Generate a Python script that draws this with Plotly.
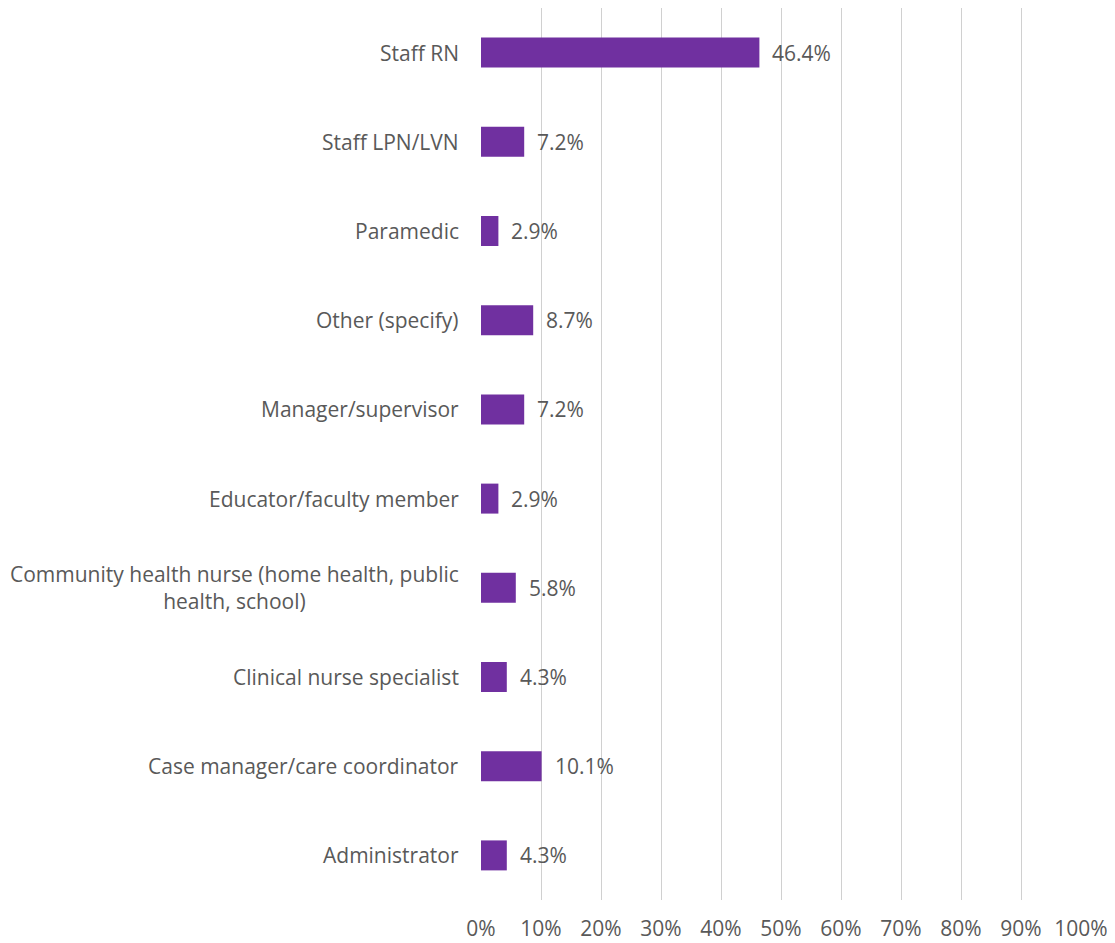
import plotly.graph_objects as go

categories = [
    "Staff RN",
    "Staff LPN/LVN",
    "Paramedic",
    "Other (specify)",
    "Manager/supervisor",
    "Educator/faculty member",
    "Community health nurse (home health, public<br>health, school)",
    "Clinical nurse specialist",
    "Case manager/care coordinator",
    "Administrator",
]
values = [46.4, 7.2, 2.9, 8.7, 7.2, 2.9, 5.8, 4.3, 10.1, 4.3]
x_ticks = [0, 10, 20, 30, 40, 50, 60, 70, 80, 90, 100]
x_tick_labels = [f"{t}%" for t in x_ticks]

FONT = "Open Sans"
GRAY = "#595959"
PURPLE = "#7030A0"
FS = 21

fig = go.Figure(
    go.Bar(
        y=categories,
        x=values,
        orientation="h",
        marker=dict(color=PURPLE, line=dict(width=0)),
        hoverinfo="skip",
    )
)

annotations = []
for c, v in zip(categories, values):
    annotations.append(dict(
        x=v, y=c, xref="x", yref="y", text=f"{v:.1f}%", showarrow=False,
        xanchor="left", xshift=11, font=dict(family=FONT, size=FS, color=GRAY),
    ))
    annotations.append(dict(
        x=0, y=c, xref="x", yref="y", text=c, showarrow=False,
        xanchor="right", xshift=-20, align="center",
        font=dict(family=FONT, size=FS, color=GRAY),
    ))

fig.update_layout(
    width=1115,
    height=943,
    margin=dict(l=473, r=42, t=0, b=51),
    plot_bgcolor="white",
    paper_bgcolor="white",
    bargap=0.664,
    showlegend=False,
    annotations=annotations,
    xaxis=dict(
        range=[0, 100],
        tickvals=x_ticks,
        ticktext=x_tick_labels,
        showgrid=True,
        gridcolor="#d0d0d0",
        gridwidth=1,
        zeroline=False,
        showline=False,
        ticks="",
        ticklabelstandoff=14,
        tickfont=dict(family=FONT, size=FS, color=GRAY),
        fixedrange=True,
    ),
    yaxis=dict(
        categoryorder="array",
        categoryarray=categories[::-1],
        showticklabels=False,
        showgrid=False,
        zeroline=False,
        showline=False,
        ticks="",
        fixedrange=True,
    ),
)

fig.write_html("out.html")
